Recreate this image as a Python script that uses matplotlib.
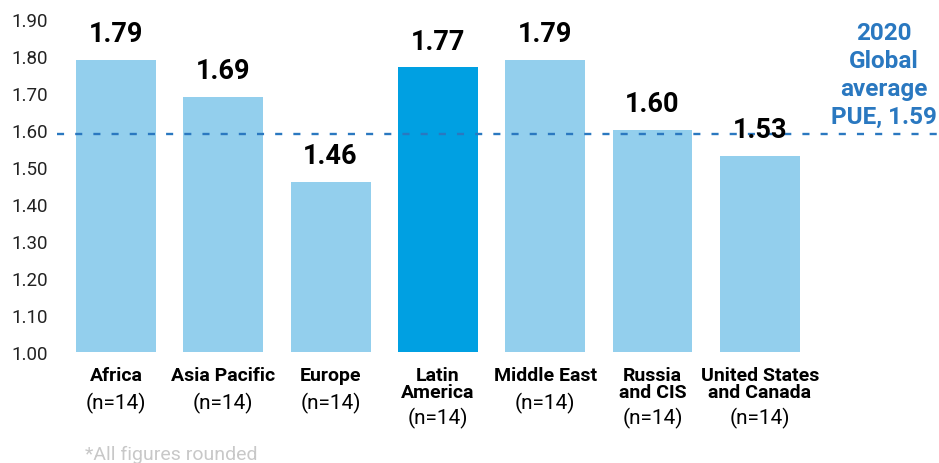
import matplotlib.pyplot as plt

plt.rcParams['font.family'] = ['Roboto', 'DejaVu Sans']

regions = ['Africa', 'Asia Pacific', 'Europe', 'Latin\nAmerica', 'Middle East',
           'Russia\nand CIS', 'United States\nand Canada']
sample_sizes = [14, 14, 14, 14, 14, 14, 14]
pue = [1.79, 1.69, 1.46, 1.77, 1.79, 1.60, 1.53]
global_avg = 1.59
y_ticks = [1.00, 1.10, 1.20, 1.30, 1.40, 1.50, 1.60, 1.70, 1.80, 1.90]

light_blue = '#93cfed'
dark_blue = '#00a0e2'
line_blue = '#2a78c0'
colors = [dark_blue if r.startswith('Latin') else light_blue for r in regions]

fig = plt.figure(figsize=(9.39, 4.64), dpi=100)
ax = fig.add_axes([57 / 939, 111 / 464, 882 / 939, 333 / 464])

x = list(range(len(regions)))
bars = ax.bar(x, pue, width=0.745, color=colors)
ax.bar_label(bars, labels=[f'{v:.2f}' for v in pue], padding=9,
             fontsize=19.5, fontweight='bold', color='black')

ax.axhline(global_avg, color=line_blue, lw=1.7, dashes=(3, 4.7))

ax.set_ylim(1.0, 1.9)
ax.set_xlim(-0.55, 7.67)
ax.set_yticks(y_ticks)
ax.set_yticklabels([f'{t:.2f}' for t in y_ticks])
ax.tick_params(axis='y', length=0, pad=6.5, labelsize=13.5, labelcolor='#222222')
ax.set_xticks([])
for s in ax.spines.values():
    s.set_visible(False)

# category names in bold with the sample size underneath
for xi, name, n in zip(x, regions, sample_sizes):
    lines = name.count('\n') + 1
    ax.annotate(name, xy=(xi, 0), xycoords=('data', 'axes fraction'),
                xytext=(0, -14), textcoords='offset pixels',
                ha='center', va='top', fontsize=14, fontweight='bold',
                linespacing=0.95, color='black')
    ax.annotate(f'(n={n})', xy=(xi, 0), xycoords=('data', 'axes fraction'),
                xytext=(0, -50 - 15 * (lines - 1)), textcoords='offset pixels',
                ha='center', va='center', fontsize=15, color='black')

fig.text(884 / 939, 1 - 22 / 464, f'2020\nGlobal\naverage\nPUE, {global_avg:.2f}',
         ha='center', va='top', fontsize=17.5, fontweight='bold',
         color=line_blue, linespacing=1.27)

fig.text(85 / 939, 1 - 455 / 464, '*All figures rounded', ha='left', va='center',
         fontsize=14, color='#c8c8c8')

fig.savefig('out.png', dpi=100)
